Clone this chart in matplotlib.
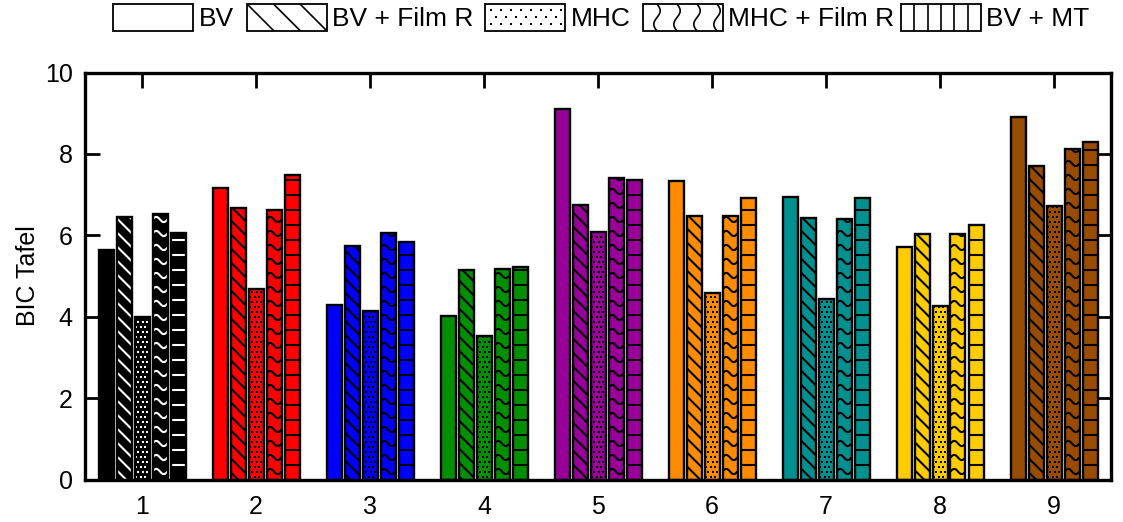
import numpy as np
import matplotlib
matplotlib.use("Agg")
import matplotlib.pyplot as plt
from matplotlib.collections import LineCollection
from matplotlib.patches import Rectangle

plt.rcParams['font.family'] = ['Liberation Sans', 'DejaVu Sans']

# ---------------- data ----------------
categories = ['1', '2', '3', '4', '5', '6', '7', '8', '9']
series_names = ['BV', 'BV + Film R', 'MHC', 'MHC + Film R', 'BV + MT']
BV = [5.63, 7.17, 4.29, 4.02, 9.10, 7.34, 6.94, 5.72, 8.91]
BV_FilmR = [6.46, 6.68, 5.74, 5.14, 6.74, 6.47, 6.42, 6.02, 7.70]
MHC = [4.00, 4.67, 4.14, 3.53, 6.07, 4.59, 4.44, 4.27, 6.72]
MHC_FilmR = [6.52, 6.63, 6.06, 5.16, 7.40, 6.47, 6.39, 6.02, 8.12]
BV_MT = [6.06, 7.47, 5.84, 5.23, 7.35, 6.92, 6.92, 6.25, 8.29]
series_values = [BV, BV_FilmR, MHC, MHC_FilmR, BV_MT]
group_colors = ['#000000', '#ff0000', '#0000ff', '#008f00', '#990099',
                '#ff8c00', '#009090', '#ffcc00', '#994c00']
patterns = ['solid', 'diag', 'dots', 'wave', 'hlines']
y_ticks = [0, 2, 4, 6, 8, 10]

# ---------------- layout ----------------
W, H = 1123, 522
fig = plt.figure(figsize=(W / 100, H / 100), dpi=100)
ax_l, ax_r, ax_b, ax_t = 85, 1111, 479.5, 72.5
ax = fig.add_axes([ax_l / W, (H - ax_b) / H, (ax_r - ax_l) / W, (ax_b - ax_t) / H])
xmin, xmax, ymin, ymax = 0.5, 9.5, 0, 10
ax.set_xlim(xmin, xmax)
ax.set_ylim(ymin, ymax)
sx = (ax_r - ax_l) / (xmax - xmin)   # px per x unit
sy = (ax_b - ax_t) / (ymax - ymin)   # px per y unit

step = 18 / sx
width = 15 / sx
lw_pat = 1.5


def make_pattern(kind, x0, x1, y0, y1):
    """Return (segments, dots) in data coords for the pattern inside a bar."""
    u0, u1, v0, v1 = x0 * sx, x1 * sx, y0 * sy, y1 * sy
    segs, dots = [], []
    if kind == 'diag':
        s = 14.0
        c = np.floor((u0 + v0) / s) * s
        while c <= u1 + v1 + s:
            ua, ub = u0 - 2, u1 + 2
            segs.append([(ua / sx, (c - ua) / sy), (ub / sx, (c - ub) / sy)])
            c += s
    elif kind == 'hlines':
        s = 15.0
        v = v0 + s
        while v < v1:
            segs.append([(x0 - 0.01, v / sy), (x1 + 0.01, v / sy)])
            v += s
    elif kind == 'wave':
        s = 14.0
        amp = 2.6
        uu = np.linspace(u0, u1, 30)
        v = v0 + 8
        while v < v1 + 6:
            vv = v + amp * np.sin(2 * np.pi * (uu - u0) / (u1 - u0))
            segs.append(list(zip(uu / sx, vv / sy)))
            v += s
    elif kind == 'dots':
        su, sv = 4.5, 5.0
        row = 0
        v = v0 + 2.5
        while v < v1:
            off = 1.5 if row % 2 == 0 else 3.75
            u = u0 + off
            while u < u1 - 0.5:
                dots.append((u / sx, v / sy))
                u += su
            v += sv
            row += 1
    return segs, dots


for gi, cat in enumerate(categories):
    gx = gi + 1
    fc = group_colors[gi]
    pc = 'white' if gi == 0 else 'black'
    for si, vals in enumerate(series_values):
        xc = gx + (si - 2) * step
        val = vals[gi]
        bars = ax.bar(xc, val, width=width, color=fc, edgecolor='none', zorder=2)
        rect = bars[0]
        segs, dots = make_pattern(patterns[si], xc - width / 2, xc + width / 2, 0, val)
        if segs:
            lc = LineCollection(segs, colors=pc, linewidths=lw_pat, zorder=3)
            ax.add_collection(lc)
            lc.set_clip_path(rect)
        if dots:
            d = np.array(dots)
            sc = ax.scatter(d[:, 0], d[:, 1], s=1.3, marker='s', c=pc,
                            linewidths=0, zorder=3)
            sc.set_clip_path(rect)
        ax.bar(xc, val, width=width, fill=False, edgecolor='black',
               linewidth=1.7, zorder=4)

ax.set_xticks(range(1, len(categories) + 1))
ax.set_xticklabels(categories)
ax.set_yticks(y_ticks)
ax.tick_params(axis='both', direction='in', length=11, width=2.0,
               labelsize=18, top=True, right=True)
ax.tick_params(axis='x', pad=11)
ax.tick_params(axis='y', pad=9)
for sp in ax.spines.values():
    sp.set_linewidth(2.4)
    sp.set_zorder(6)
ax.set_ylabel('BIC Tafel', fontsize=18)
ax.yaxis.set_label_coords((40 - ax_l) / (ax_r - ax_l), 0.5)

# ---------------- legend (drawn in pixel space) ----------------
lax = fig.add_axes([0, 0, 1, 1])
lax.set_xlim(0, W)
lax.set_ylim(H, 0)
lax.axis('off')
box_x = [113, 247, 485, 643, 901]
text_x = [199, 332, 571, 728, 986]
by0, by1, bw = 4, 31, 80
for i, name in enumerate(series_names):
    x0 = box_x[i]
    lax.add_patch(Rectangle((x0, by0), bw, by1 - by0, facecolor='white',
                            edgecolor='none', zorder=1))
    lax.add_patch(Rectangle((x0, by0), bw, by1 - by0, fill=False,
                            edgecolor='black', linewidth=1.3, zorder=4))
    clip = Rectangle((x0, by0), bw, by1 - by0, transform=lax.transData)
    segs, dots = [], []
    hh = by1 - by0
    if patterns[i] == 'diag':
        for k in range(3):
            xs = x0 + k * 26.5
            segs.append([(xs, by0), (xs + hh, by1)])
    elif patterns[i] == 'dots':
        for r, yy in enumerate([10, 17, 24]):
            off = 6 if r % 2 == 0 else 11
            xx = x0 + off
            while xx < x0 + bw - 3:
                dots.append((xx, yy))
                xx += 10
    elif patterns[i] == 'wave':
        yy = np.linspace(by0, by1, 40)
        for k in range(4):
            xcw = x0 + 14 + 20 * k
            segs.append(list(zip(xcw + 3.2 * np.sin(2 * np.pi * (yy - by0) / hh), yy)))
    elif patterns[i] == 'hlines':
        for k in range(1, 6):
            xx = x0 + 13.3 * k
            segs.append([(xx, by0), (xx, by1)])
    if segs:
        lc = LineCollection(segs, colors='black', linewidths=1.2, zorder=3)
        lax.add_collection(lc)
        lc.set_clip_path(clip)
    if dots:
        d = np.array(dots)
        lax.scatter(d[:, 0], d[:, 1], s=1.5, marker='s', c='black',
                    linewidths=0, zorder=3)
    lax.text(text_x[i], (by0 + by1) / 2 + 1, name, fontsize=19, ha='left',
             va='center', color='black')

fig.savefig('out.png', dpi=100)
